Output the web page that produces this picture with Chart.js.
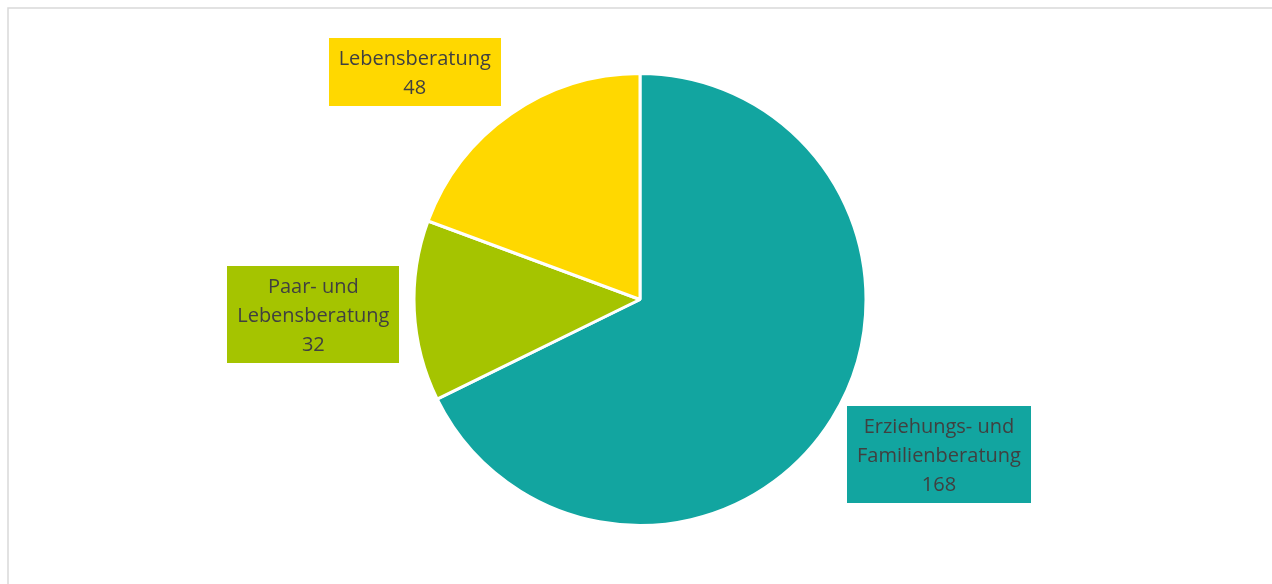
<!DOCTYPE html>
<html>
<head>
<meta charset="utf-8">
<script src="https://cdn.jsdelivr.net/npm/chart.js@4.4.1/dist/chart.umd.min.js"></script>
<style>
  html, body { margin: 0; padding: 0; background: #fff; }
  #wrap { width: 1272px; height: 584px; position: relative; }
</style>
</head>
<body>
<div id="wrap"><canvas id="beratungChart"></canvas></div>
<script>
const kategorien = [['Erziehungs- und', 'Familienberatung'], ['Paar- und', 'Lebensberatung'], ['Lebensberatung']];
const anzahl = [168, 32, 48];
const farben = ['#12A5A0', '#A5C400', '#FFD800'];

// Lage der Beschriftungen: Winkel (Grad, im Uhrzeigersinn ab 12 Uhr) und Abstand in Radien
const labelLage = [
    { angle: 117.4, dist: 1.49 },
    { angle: 267.4, dist: 1.447 },
    { angle: 315.3, dist: 1.417 }
];

// grauer Rahmen oben/links
const rahmen = {
    id: 'rahmen',
    beforeDraw(chart) {
        const ctx = chart.ctx;
        ctx.save();
        ctx.strokeStyle = '#d9d9d9';
        ctx.lineWidth = 1.5;
        ctx.beginPath();
        ctx.moveTo(8, chart.height);
        ctx.lineTo(8, 8);
        ctx.lineTo(chart.width, 8);
        ctx.stroke();
        ctx.restore();
    }
};

// farbige Kästen mit Kategorie und Wert
const boxLabels = {
    id: 'boxLabels',
    afterDatasetsDraw(chart) {
        const ctx = chart.ctx;
        const arcs = chart.getDatasetMeta(0).data;
        ctx.save();
        ctx.font = '20px "Open Sans", sans-serif';
        ctx.textAlign = 'center';
        ctx.textBaseline = 'middle';
        const lh = 29;
        arcs.forEach((arc, i) => {
            const lage = labelLage[i];
            const a = lage.angle * Math.PI / 180;
            const r = arc.outerRadius * lage.dist;
            const cx = arc.x + Math.sin(a) * r;
            const cy = arc.y - Math.cos(a) * r;
            const zeilen = kategorien[i].concat([String(anzahl[i])]);
            const w = Math.max(...zeilen.map(z => ctx.measureText(z).width)) + 20;
            const h = zeilen.length * lh + 10;
            ctx.fillStyle = farben[i];
            ctx.fillRect(Math.round(cx - w / 2), Math.round(cy - h / 2), Math.round(w), h);
            ctx.fillStyle = '#404040';
            zeilen.forEach((z, k) => {
                ctx.fillText(z, cx, cy - h / 2 + 5 + lh * k + lh / 2 + 2);
            });
        });
        ctx.restore();
    }
};

new Chart(document.getElementById('beratungChart'), {
    type: 'pie',
    data: {
        labels: kategorien.map(k => k.join(' ')),
        datasets: [{
            data: anzahl,
            backgroundColor: farben,
            borderColor: '#ffffff',
            borderWidth: 3,
            hoverOffset: 0
        }]
    },
    options: {
        responsive: true,
        maintainAspectRatio: false,
        animation: false,
        layout: { padding: { top: 72, bottom: 57, left: 8, right: 0 } },
        plugins: {
            legend: { display: false },
            tooltip: { enabled: false }
        }
    },
    plugins: [rahmen, boxLabels]
});
</script>
</body>
</html>
